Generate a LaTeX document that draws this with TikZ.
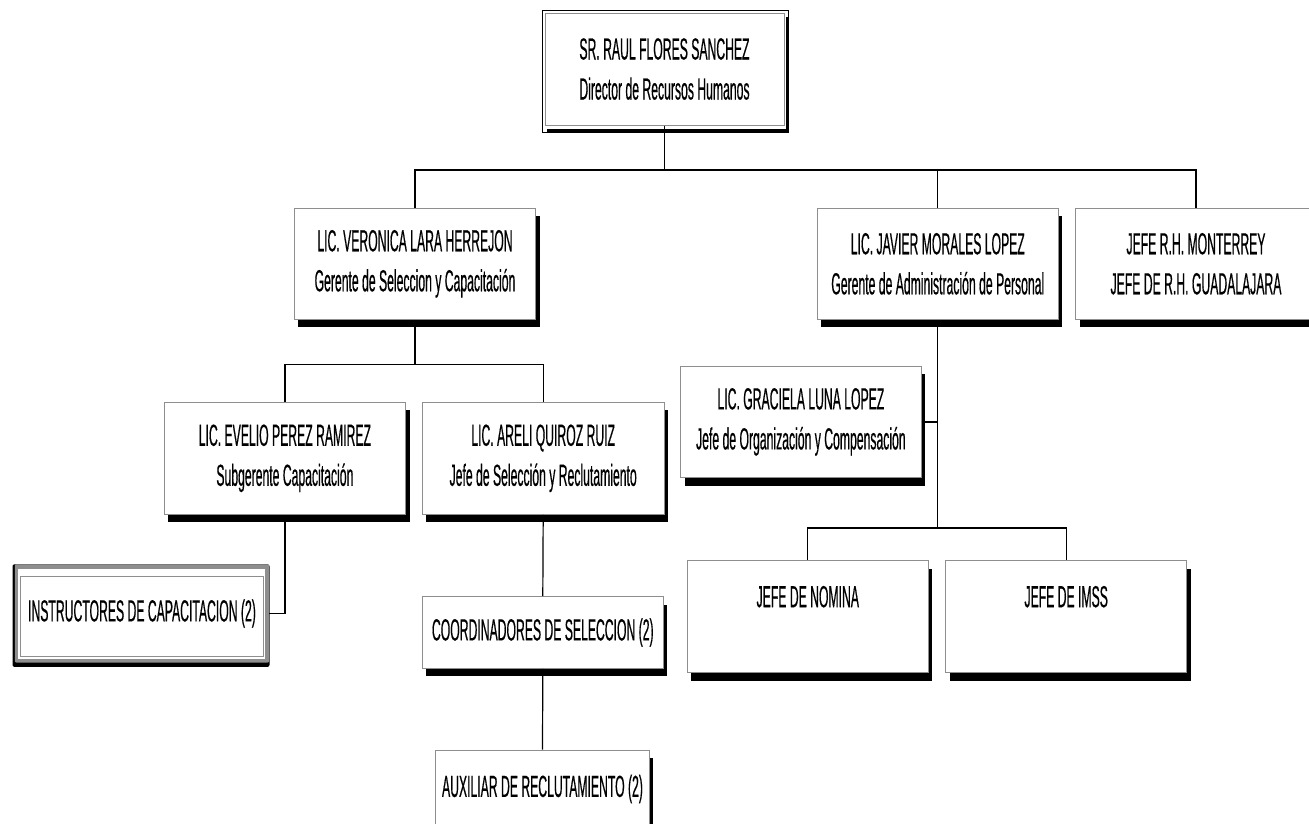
\documentclass[tikz,border=0pt]{standalone}
\usepackage{fontspec}
\setmainfont{Liberation Sans}[FakeStretch=0.40, FakeBold=0.4]
\usetikzlibrary{shadows,backgrounds}
\definecolor{frame}{HTML}{8E8E8E}
\tikzset{
  box/.style={draw=frame, line width=1pt, fill=white, inner sep=0pt, align=center,
    font=\fontsize{30.5}{40}\selectfont,
    general shadow={fill=black, shadow xshift=4pt, shadow yshift=-8pt}},
  plainbox/.style={draw=frame, line width=1pt, fill=white, inner sep=0pt, align=center,
    font=\fontsize{30.5}{40}\selectfont},
  textonly/.style={inner sep=0pt, align=center, font=\fontsize{30.5}{40}\selectfont},
  conn/.style={draw=black, line width=1.2pt},
}
\begin{document}
\begin{tikzpicture}[x=1pt,y=-1pt]
\useasboundingbox (0,0) rectangle (1309,823);
% top box
\node[plainbox, minimum width=239pt, minimum height=112pt] (raul) at (664.5,69)
  {SR. RAUL FLORES SANCHEZ\\Director de Recursos Humanos};
% second level
\node[box, minimum width=241.7pt, minimum height=111pt] (vero) at (415,263.8)
  {LIC. VERONICA LARA HERREJON\\Gerente de Seleccion y Capacitación};
\node[box, minimum width=241pt, minimum height=111pt] (javier) at (937.8,263.8)
  {LIC. JAVIER MORALES LOPEZ\\Gerente de Administración de Personal};
\node[box, minimum width=241pt, minimum height=111pt] (mty) at (1196,263.8)
  {JEFE R.H. MONTERREY\\JEFE DE R.H. GUADALAJARA};
% third level
\node[box, minimum width=241.7pt, minimum height=112pt] (evelio) at (284.9,458.3)
  {LIC. EVELIO PEREZ RAMIREZ\\Subgerente Capacitación};
\node[box, minimum width=241.7pt, minimum height=112pt] (areli) at (543.2,458.3)
  {LIC. ARELI QUIROZ RUIZ\\Jefe de Selección y Reclutamiento};
\node[box, minimum width=240.3pt, minimum height=111.7pt] (graciela) at (800.9,421.9)
  {LIC. GRACIELA LUNA LOPEZ\\Jefe de Organización y Compensación};
\node[box, minimum width=241pt, minimum height=112pt] (nomina) at (807.8,616.7)
  {JEFE DE NOMINA\\\phantom{J}};
\node[box, minimum width=241pt, minimum height=112pt] (imss) at (1066.2,616.7)
  {JEFE DE IMSS\\\phantom{J}};
\node[box, minimum width=241pt, minimum height=71.6pt] (coord) at (542.8,632.5)
  {COORDINADORES DE SELECCION (2)};
\node[box, minimum width=213.6pt, minimum height=78pt] (aux) at (542.5,789)
  {AUXILIAR DE RECLUTAMIENTO (2)};
\node[textonly, minimum width=254pt, minimum height=98pt] (instr) at (142,613.5)
  {INSTRUCTORES DE CAPACITACION (2)};
% decorations
\begin{pgfonlayer}{background}
  % top box frame
  \draw[black, line width=0.8pt, fill=white] ([shift={(-2,-2)}]raul.north west) rectangle ([shift={(4,7)}]raul.south east);
  \fill[black] ([shift={(2,3)}]raul.south west) rectangle ([shift={(4,7)}]raul.south east);
  \fill[black] ([shift={(1,4)}]raul.north east) rectangle ([shift={(4,7)}]raul.south east);
  % instructors frame
  \fill[black, rounded corners=2pt] ([shift={(-2.3,0)}]instr.north west) rectangle ([shift={(0.3,4.2)}]instr.south east);
  \fill[frame, rounded corners=2pt] (instr.north west) rectangle (instr.south east);
  \fill[white] ([shift={(3.5,5)}]instr.north west) rectangle ([shift={(-4,-4)}]instr.south east);
  \draw[frame, line width=0.8pt] ([shift={(5.7,12.2)}]instr.north west) rectangle ([shift={(-5.7,-6.5)}]instr.south east);
\end{pgfonlayer}
% connectors
\coordinate (bus1) at (0,170);
\coordinate (bus2) at (0,364.3);
\coordinate (bus3) at (0,528);
\draw[conn] (raul.south) -- (raul.south |- bus1);
\draw[conn] (vero.north) -- (vero.north |- bus1) -- (mty.north |- bus1) -- (mty.north);
\draw[conn] (javier.north) -- (javier.north |- bus1);
\draw[conn] (vero.south) -- (vero.south |- bus2);
\draw[conn] (evelio.north) -- (evelio.north |- bus2) -- (areli.north |- bus2) -- (areli.north);
\draw[conn] (evelio.south) |- (instr.east);
\draw[conn] (areli.south) -- (coord.north);
\draw[conn] (coord.south) -- (aux.north);
\draw[conn] (javier.south) -- (javier.south |- bus3);
\draw[conn] (graciela.east) -- (graciela.east -| javier.south);
\draw[conn] (nomina.north) -- (nomina.north |- bus3) -- (imss.north |- bus3) -- (imss.north);
\end{tikzpicture}
\end{document}
